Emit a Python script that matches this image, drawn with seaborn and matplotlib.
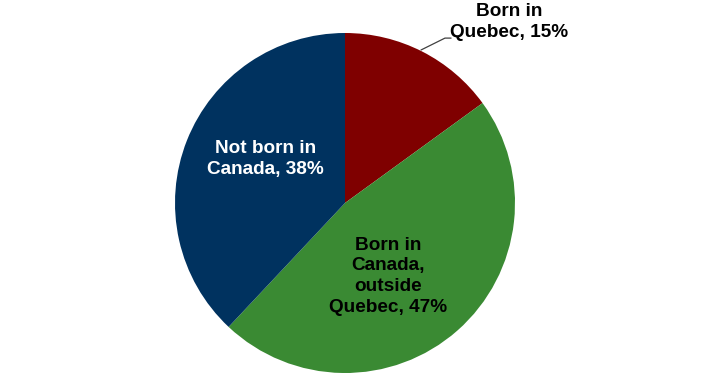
import matplotlib
matplotlib.use("Agg")
import matplotlib.pyplot as plt
import seaborn as sns

sns.set_theme(style="white")
plt.rcParams['font.family'] = ['Liberation Sans', 'DejaVu Sans']

categories = ["Born in\nQuebec", "Born in\nCanada,\noutside\nQuebec", "Not born in\nCanada"]
values = [15, 47, 38]
colors = ["#7F0000", "#3A8A33", "#00325F"]

fig = plt.figure(figsize=(7.25, 3.86), dpi=100)
W, H = 725, 386
cx, cy, r = 345, 203, 170
ax = fig.add_axes([(cx - r) / W, (H - cy - r) / H, 2 * r / W, 2 * r / H])

wedges, _ = ax.pie(values, colors=colors, startangle=90, counterclock=False,
                   radius=1, wedgeprops=dict(linewidth=0))
ax.set_xlim(-1, 1)
ax.set_ylim(-1, 1)
ax.set_aspect('equal')
ax.axis('off')

fs = 13.7
ls = 1.28
labels = [f"{c}, {v}%" for c, v in zip(categories, values)]
# Quebec label (outside with leader)
ax.text(0.965, 1.065, labels[0], ha='center', va='center', fontsize=fs,
        fontweight='bold', color='black', linespacing=ls, clip_on=False)
ax.plot([0.447, 0.588, 0.624], [0.90, 0.97, 0.97], color='#404040', lw=0.9,
        clip_on=False)
ax.text(0.254, -0.43, labels[1], ha='center', va='center', fontsize=fs,
        fontweight='bold', color='black', linespacing=ls)
ax.text(-0.47, 0.26, labels[2], ha='center', va='center', fontsize=fs,
        fontweight='bold', color='white', linespacing=ls)

fig.savefig("out.png", dpi=100)
